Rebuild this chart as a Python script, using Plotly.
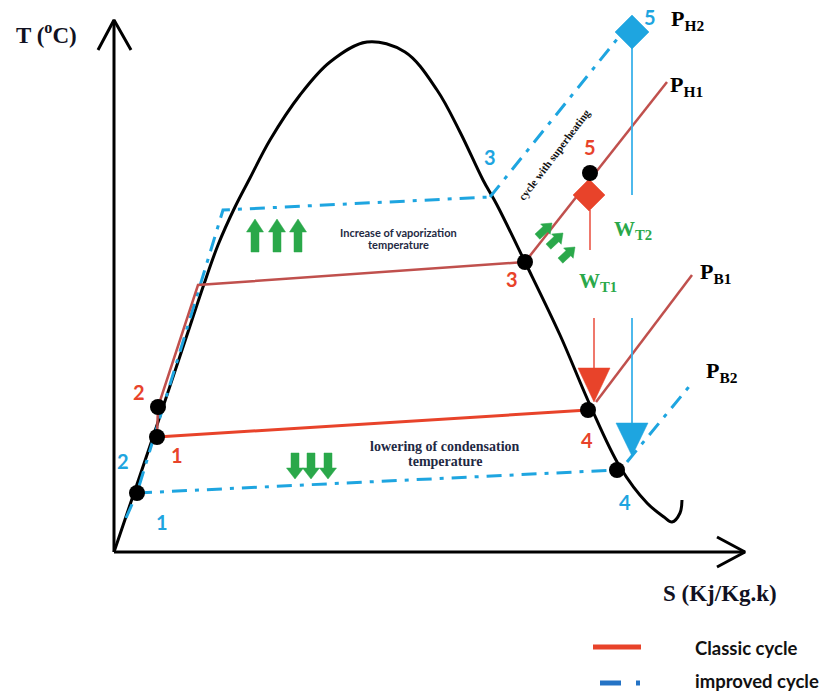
import math
import plotly.graph_objects as go

# ---------------- data (schematic T-S diagram, drawing units) ----------------
# saturation dome
dome_s = [114, 134, 152, 162, 178, 192, 203, 218, 235, 250, 270, 300, 330, 367, 405, 437,
          460, 483, 497, 525, 560, 590, 620, 647, 664, 672, 680, 682]
dome_t = [552, 493, 440, 410, 362, 320, 287, 245, 207, 178, 140, 95, 62, 42, 52, 90,
          132, 180, 205, 262, 335, 405, 467, 503, 517, 522, 513, 500]

# classic cycle state points 1..5
classic_labels = ["1", "2", "3", "4", "5"]
classic_s = [157, 158, 525, 588, 590]
classic_t = [437, 407, 262, 410, 173]
classic_vap_s, classic_vap_t = 198, 285          # start of vaporization
classic_ph1_s, classic_ph1_t = 667, 82           # end of P_H1 isobar
classic_exp_s = [596, 692]                       # expansion end -> P_B1 isobar
classic_exp_t = [402, 275]

# improved cycle state points 1..5
improved_labels = ["1", "2", "3", "4", "5"]
improved_s = [137, 137, 490, 617, 632]
improved_t = [493, 493, 197, 470, 32]
improved_low_s, improved_low_t = 126, 518
improved_vap_s, improved_vap_t = 223, 210
improved_ph2_s, improved_ph2_t = 618, 38
improved_pb2_s = [627, 692]
improved_pb2_t = [462, 383]

# turbine work lines
wt1_s = [[590, 590], [594, 594]]
wt1_t = [[210, 250], [318, 370]]
wt2_s = [[632, 632], [632, 632]]
wt2_t = [[48, 195], [318, 425]]

# green indication arrows (tips)
up_tip_s = [255, 277, 298]
up_tip_t = [219, 219, 219]
down_tip_s = [295, 311, 328]
down_tip_t = [479, 479, 479]
diag_tip_s = [552, 563, 575]
diag_tip_t = [223, 233, 247]

# ---------------- styles ----------------
RED = "#E8432A"
RED_DARK = "#C0504D"
BLUE = "#1EA5E0"
GREEN = "#2AA84A"
BLACK = "#000000"
DASHDOT = "15px,8px,4px,8px"

fig = go.Figure()


def line(xs, ys, color, width, dash=None, shape="linear"):
    fig.add_trace(go.Scatter(x=xs, y=ys, mode="lines", hoverinfo="skip",
                             line=dict(color=color, width=width, dash=dash, shape=shape)))


def poly(xs, ys, color):
    fig.add_trace(go.Scatter(x=xs + [xs[0]], y=ys + [ys[0]], mode="lines", fill="toself",
                             fillcolor=color, line=dict(color=color, width=0.5),
                             hoverinfo="skip"))


def block_arrow(tx, ty, dx, dy, length, shaft, head, head_len, color):
    n = math.hypot(dx, dy)
    ux, uy = dx / n, dy / n
    px, py = -uy, ux
    bx, by = tx - ux * length, ty - uy * length
    nx, ny = tx - ux * head_len, ty - uy * head_len
    xs = [bx + px * shaft / 2, nx + px * shaft / 2, nx + px * head / 2, tx,
          nx - px * head / 2, nx - px * shaft / 2, bx - px * shaft / 2]
    ys = [by + py * shaft / 2, ny + py * shaft / 2, ny + py * head / 2, ty,
          ny - py * head / 2, ny - py * shaft / 2, by - py * shaft / 2]
    poly(xs, ys, color)


# axes with arrow heads
line([114, 114], [552, 20], BLACK, 3)
line([98, 114, 131], [50, 20, 50], BLACK, 3)
line([114, 745], [552, 552], BLACK, 3)
line([717, 745, 717], [537, 552, 567], BLACK, 3)

# saturation dome
line(dome_s, dome_t, BLACK, 3, shape="spline")

# improved cycle (dash-dot)
line([improved_low_s, improved_s[0], improved_vap_s, improved_s[2]],
     [improved_low_t, improved_t[0], improved_vap_t, improved_t[2]], BLUE, 3, DASHDOT)
line([improved_s[2], improved_ph2_s], [improved_t[2], improved_ph2_t], BLUE, 3, DASHDOT)
line([improved_s[0], improved_s[3]], [improved_t[0], improved_t[3]], BLUE, 3, DASHDOT)
line(improved_pb2_s, improved_pb2_t, BLUE, 3, DASHDOT)

# classic cycle
line([classic_s[0], classic_s[3]], [classic_t[0], classic_t[3]], RED, 3)
line([classic_s[0], classic_s[1], classic_vap_s, classic_s[2]],
     [classic_t[0], classic_t[1], classic_vap_t, classic_t[2]], RED_DARK, 2.5)
line([classic_s[2], classic_ph1_s], [classic_t[2], classic_ph1_t], RED_DARK, 2.5)
line(classic_exp_s, classic_exp_t, RED_DARK, 2.5)

# turbine work lines
for xs, ys in zip(wt1_s, wt1_t):
    line(xs, ys, "#EE6A5C", 1.8)
for xs, ys in zip(wt2_s, wt2_t):
    line(xs, ys, "#3AB2EA", 1.8)

# triangles (end of expansion)
poly([578, 610, 594], [368, 368, 402], RED)
poly([616, 648, 632], [423, 423, 456], BLUE)

# diamonds (state 5)
poly([589, 605, 589, 573], [179, 195, 211, 195], RED)
poly([632, 649, 632, 615], [15, 32, 49, 32], BLUE)

# black state dots
dot_s = [classic_s[0], classic_s[1], classic_s[2], classic_s[3], classic_s[4], improved_s[0], improved_s[3]]
dot_t = [classic_t[0], classic_t[1], classic_t[2], classic_t[3], classic_t[4], improved_t[0], improved_t[3]]
fig.add_trace(go.Scatter(x=dot_s, y=dot_t, mode="markers", hoverinfo="skip",
                         marker=dict(color=BLACK, size=16)))

# green arrows
for tx, ty in zip(up_tip_s, up_tip_t):
    block_arrow(tx, ty, 0, -1, 33, 8, 17, 13, GREEN)
for tx, ty in zip(down_tip_s, down_tip_t):
    block_arrow(tx, ty, 0, 1, 26, 8, 17, 11, GREEN)
for tx, ty in zip(diag_tip_s, diag_tip_t):
    block_arrow(tx, ty, 15, -14, 20, 7, 14, 9, GREEN)

# legend (drawn)
line([593, 641], [647, 647], "#E8432A", 5)
line([600, 621], [683, 683], "#2473C5", 5)
line([636, 640], [683, 683], "#2473C5", 5)

# ---------------- text ----------------
SERIF = "Liberation Serif"
SANS = "Lato"
ann = []


def txt(text, x, y, size, color, family, angle=0, xanchor="center"):
    ann.append(dict(text=text, x=x, y=y, xref="x", yref="y", showarrow=False,
                    xanchor=xanchor, yanchor="middle", textangle=angle,
                    font=dict(size=size, color=color, family=family)))


txt("<b>T (<sup>o</sup>C)</b>", 46, 33, 23, "#111122", SERIF)
txt("<b>S (Kj/Kg.k)</b>", 720, 593, 23, "#111122", SERIF)

txt("<b>P<sub>H2</sub></b>", 687, 20, 22, "#000000", SERIF)
txt("<b>P<sub>H1</sub></b>", 686, 86, 22, "#000000", SERIF)
txt("<b>P<sub>B1</sub></b>", 715, 273, 22, "#000000", SERIF)
txt("<b>P<sub>B2</sub></b>", 722, 372, 22, "#000000", SERIF)

txt("<b>W<sub>T2</sub></b>", 633, 230, 21, GREEN, SERIF)
txt("<b>W<sub>T1</sub></b>", 598, 282, 21, GREEN, SERIF)

# classic point labels
for lab, x, y in zip(classic_labels, [177, 139, 512, 587, 590], [455, 392, 279, 440, 147]):
    txt("<b>%s</b>" % lab, x, y, 20, RED, SANS)
# improved point labels
for lab, x, y in zip(improved_labels, [162, 123, 490, 625, 650], [522, 461, 157, 502, 17]):
    txt("<b>%s</b>" % lab, x, y, 20, BLUE, SANS)

txt("<b>Increase of vaporization</b>", 398, 232, 11, "#1F2A44", SANS)
txt("<b>temperature</b>", 398, 244, 11, "#1F2A44", SANS)
txt("<b>lowering of condensation</b>", 445, 446, 14, "#1F2A44", SERIF)
txt("<b>temperature</b>", 445, 461, 14, "#1F2A44", SERIF)
txt("<b>cycle with superheating</b>", 554, 155, 11, "#111111", SERIF, angle=-53)

txt("<b>Classic cycle</b>", 693, 648, 18.5, "#111111", SANS, xanchor="left")
txt("<b>improved cycle</b>", 693, 681, 18.5, "#111111", SANS, xanchor="left")

fig.update_layout(
    width=835, height=694,
    margin=dict(l=0, r=0, t=0, b=0),
    paper_bgcolor="white", plot_bgcolor="white",
    showlegend=False,
    xaxis=dict(range=[0, 835], visible=False, fixedrange=True),
    yaxis=dict(range=[694, 0], visible=False, fixedrange=True),
    annotations=ann,
)

fig.write_html("out.html")
